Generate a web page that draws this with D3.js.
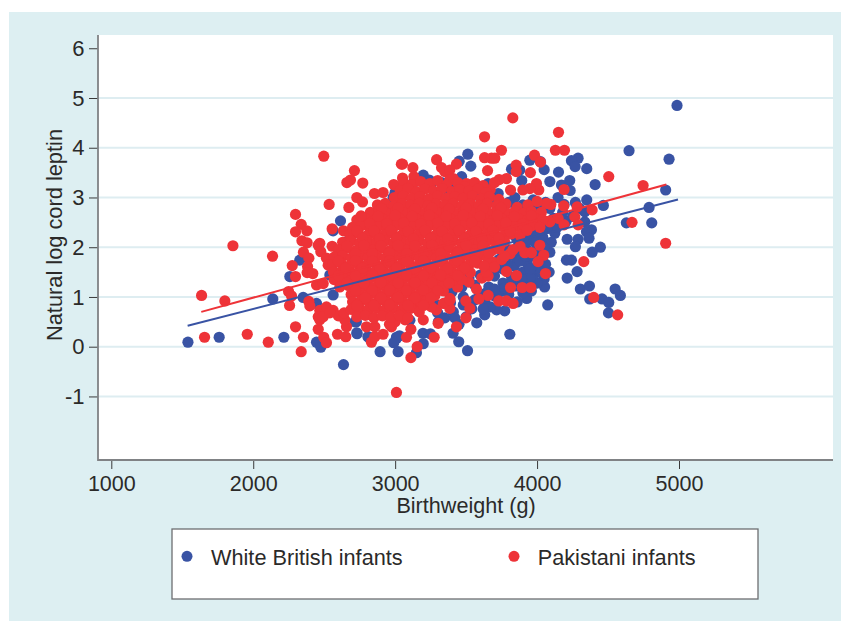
<!DOCTYPE html>
<html>
<head>
<meta charset="utf-8">
<script src="https://cdn.jsdelivr.net/npm/d3@7"></script>
<style>
  html, body { margin: 0; padding: 0; background: #fff; }
  text { font-family: "Liberation Sans", Arial, sans-serif; fill: #2b2a29; }
</style>
</head>
<body>
<div id="chart"></div>
<script>
const xTicks = [1000, 2000, 3000, 4000, 5000];
const yTicks = [-1, 0, 1, 2, 3, 4, 5, 6];
const gridValues = [-1, 0, 1, 2, 3, 4, 5];

// [birthweight (g), natural log cord leptin]
const whiteBritish = [
  [1540,.09],[1760,.19],[2216,.19],[2138,.96],[2352,.99],[2446,.87],[2446,.09],[2476,-.01],[2636,-.36],[2732,.26],
  [2812,.2],[2894,-.1],[3021,-.1],[3009,.19],[2615,2.53],[2563,2.33],[2328,1.74],[2258,1.41],[2939,2.83],[2986,3.0],
  [2727,.5],[2645,2.1],[2540,1.44],[2563,1.04],[2808,.2],[2730,.28],[2716,.5],[3010,.17],[3196,.27],[3104,.53],[3060,.65],
  [4986,4.85],[4648,3.94],[4930,3.77],[4906,3.15],[4789,2.8],[4467,2.84],[4629,2.49],[4808,2.49],[4409,3.26],[4350,3.58],
  [4289,3.79],[4242,3.74],[4268,3.62],[4151,3.51],[4050,3.56],[4024,3.72],[3949,3.75],[3820,3.57],[3878,3.55],[3892,3.34],
  [3512,3.87],[3533,3.63],[3451,3.73],[3468,3.42],[3198,3.45],[3327,3.3],[3240,3.35],[3655,3.28],[3585,3.2],[3421,3.18],
  [4090,3.32],[4172,3.25],[4230,3.34],[4233,3.14],[4148,3.0],[4350,2.95],[4090,2.78],[3972,2.95],[3843,3.0],[3726,3.08],
  [4336,2.71],[4336,2.51],[4383,2.35],[4348,2.31],[4366,2.18],[4289,2.16],[4212,2.16],[4270,2.01],[4446,2.0],[4388,1.9],
  [4242,1.74],[4207,1.74],[4282,1.51],[4212,1.38],[4305,1.16],[4369,1.22],[4371,.96],[4458,.96],[4505,.89],[4550,1.16],
  [4587,1.03],[4503,.68],[3927,.97],[4075,.84],[4053,1.2],[4050,1.36],[4085,1.5],[4060,1.66],[4090,1.9],[4100,2.1],
  [4125,2.28],[4140,2.4],[4205,2.52],[4250,2.62],[4180,2.7],[4115,2.58],[3772,.72],[3715,.74],[3631,.64],[3575,.48],
  [3808,.25],[3448,.1],[3510,-.08],[3408,.27],[3248,.26],[3198,.06],[3150,-.12],[3030,.22],[2990,.08],[3305,.5],[3450,.45],
  [3500,.6],[3300,.68],[3410,.7],[3540,.76],[3630,.9],[3700,1.02],[3737,1.1],[3800,1.05],[3860,.9],[3670,.8],[3590,1.0],
  [3480,1.0],[3390,.88],[3280,.86],[3760,1.28],[3660,1.2],[3560,1.24],[3470,1.2],[3400,1.1],[3850,1.22],[3960,1.12],
  [3900,1.08],[4000,1.28],[3930,1.3],[3820,1.4],[3700,1.42],[3600,1.44],[3520,1.38],[3980,1.45],[3900,1.5],[3760,1.56],
  [3640,1.6],[4000,1.62],[3930,1.68],[3840,1.62],[3730,1.75],[3850,1.8],[3960,1.82],[4030,1.78],[3930,1.94],[3800,1.95],
  [3870,2.06],[4000,2.02],[3950,2.16],[4040,2.2],[3850,2.2],[3760,2.1],[3980,2.3],[4070,2.38],[3700,2.9],[3650,3.05],
  [3800,2.9],[3900,2.85],[4000,2.78],[4060,2.9],[4190,2.86],[4270,2.9],[4300,2.78],[3560,3.05],[3460,3.1],[3370,3.15],
  [3250,3.22],[3130,3.3],[2830,2.66],[2880,2.78],[3000,3.1],[3040,2.95],
  // thick patch right of the cloud
  [3950,1.4],[3890,1.36],[3830,1.3],[3770,1.18],[3700,1.16],[3640,1.08],[3560,.94],[3480,.84],[3620,.76],[3420,.58],
  [3350,.58],[3880,1.72],[3790,1.68],[3700,1.55],[3950,1.56],[4030,1.5],[3920,1.82],[3990,1.9],[4050,2.0],[3900,2.28],
  [3920,2.08],[3980,2.12],[3850,1.94],[3760,1.86]
];
const pakistani = [
  // outlying points, left side
  [2497,3.83],[2713,3.54],[2685,3.35],[2660,3.3],[2772,3.29],[2854,3.08],[2915,3.1],[2730,3.0],[2770,2.91],[2535,2.86],
  [2674,2.8],[2990,3.26],[3044,3.67],[2298,2.66],[2338,2.46],[2298,2.31],[2378,2.33],[2556,2.37],[2636,2.33],[2343,2.13],
  [2380,2.09],[1857,2.03],[2469,2.08],[2458,2.04],[2556,2.02],[2136,1.82],[2354,1.9],[2476,1.91],[2392,1.78],[2516,1.78],
  [2275,1.63],[2383,1.61],[2528,1.64],[2298,1.41],[2380,1.49],[2420,1.47],[1636,1.03],[1800,.92],[2249,1.11],[2270,1.02],
  [2256,.83],[2392,.91],[2399,.82],[2446,1.24],[2493,1.27],[2575,1.37],[2469,.73],[2516,.8],[2563,.73],[2458,.35],
  [2298,.4],[2354,.19],[1657,.19],[1958,.25],[2106,.09],[2338,-.1],[2497,.19],[2516,.08],[2594,.25],[2652,.2],
  [2833,.09],[2857,.2],[2915,.25],[3009,-.92],[2469,.54],[2458,.6],[2493,.6],[2657,.4],[2645,.54],[2798,.4],[2857,.4],[2974,.4],
  [2600,.62],[2640,.68],[2540,.68],
  // outlying points, right side
  [3829,4.6],[4151,4.31],[3630,4.22],[4129,3.95],[4193,3.95],[3749,3.95],[3630,3.8],[3679,3.79],[3702,3.79],[3982,3.85],
  [4024,3.71],[3853,3.65],[3853,3.52],[3953,3.5],[3651,3.54],[3292,3.76],[3052,3.67],[3125,3.6],[3052,3.39],[3132,3.42],
  [3327,3.6],[3350,3.52],[3432,3.67],[3385,3.55],[3409,3.38],[3385,3.35],[4505,3.42],[4747,3.24],[4190,3.16],[4012,3.15],
  [3996,3.28],[3949,3.18],[3900,3.15],[3813,3.15],[3784,3.38],[3733,3.36],[3503,3.28],[3670,3.16],[4188,2.83],[4282,2.81],
  [4388,2.75],[4097,2.86],[4066,2.88],[4266,2.61],[4148,2.58],[4090,2.51],[4190,2.45],[4289,2.45],[4669,2.5],[4906,2.08],
  [4329,1.71],[3914,1.89],[3960,1.89],[4047,1.84],[4007,1.71],[4059,1.47],[3855,1.43],[3784,1.51],[3813,1.19],[3895,1.19],
  [3956,1.19],[3573,1.16],[3655,1.03],[3590,.96],[3730,.92],[3784,.92],[3831,.87],[4399,.99],[4568,.64],[3498,.92],
  [3526,.77],[3498,.58],[3432,.4],[3275,.19],[3155,0],[3111,-.22],[3080,.19],[3111,.35],[3303,.47],[3198,.54],[3070,.54],
  [3000,.5],[2960,.45],[3385,.97],[3385,.77],[3340,.87],[3290,.74],[3255,.8],[3340,1.12],[3198,.87],[3150,.8],[3689,1.7],
  [3611,1.38],[3655,1.42],[3387,.94],[3440,1.2],[3520,1.3],[3640,1.5],[3700,1.6],[3750,1.75],[3810,1.87],[4019,2.04],
  [3880,2.02],[3830,1.95],[3770,1.82],
  // top edge of the central cloud
  [3060,3.3],[3120,3.26],[3180,3.32],[3245,3.28],[3300,3.34],[3360,3.25],[3440,3.3],[3490,3.22],[3560,3.3],[3620,3.24],[3700,3.3],
  [3035,3.14],[3090,3.18],[3150,3.12],[3210,3.17],[3270,3.13],[3330,3.18],[3400,3.12],[3455,3.16],[3520,3.13],[3585,3.17],[3640,3.1],
  [2995,3.0],[3055,3.03],[3115,2.98],[3175,3.02],[3235,2.97],[3300,3.03],[3360,2.98],[3420,3.02],[3480,2.98],[3545,3.03],[3605,2.97],[3665,3.02],[3730,2.96],
  [2875,2.85],[2930,2.88],[2990,2.83],[3050,2.87],[3110,2.84],[3170,2.88],[3230,2.83],[3290,2.87],[3350,2.84],[3410,2.88],[3470,2.83],[3530,2.87],[3590,2.84],[3650,2.88],[3715,2.83],[3780,2.87],[3860,2.8],[3935,2.85],[4000,2.92],
  [2825,2.7],[2885,2.73],[2945,2.68],[3005,2.72],[3065,2.69],[3125,2.73],[3185,2.68],[3245,2.72],[3305,2.69],[3365,2.73],[3425,2.68],[3485,2.72],[3545,2.69],[3605,2.73],[3665,2.68],[3725,2.72],[3785,2.69],[3845,2.73],[3905,2.68],[3960,2.72],[4030,2.7],
  // middle of the cloud
  [2730,2.55],[2790,2.58],[2850,2.53],[2910,2.57],[2970,2.54],[3030,2.58],[3090,2.53],[3150,2.57],[3210,2.54],[3270,2.58],[3330,2.53],[3390,2.57],[3450,2.54],[3510,2.58],[3570,2.53],[3630,2.57],[3690,2.54],[3750,2.58],[3810,2.53],[3870,2.57],[3930,2.54],[3990,2.58],[4040,2.55],
  [2700,2.4],[2760,2.43],[2820,2.38],[2880,2.42],[2940,2.39],[3000,2.43],[3060,2.38],[3120,2.42],[3180,2.39],[3240,2.43],[3300,2.38],[3360,2.42],[3420,2.39],[3480,2.43],[3540,2.38],[3600,2.42],[3660,2.39],[3720,2.43],[3780,2.38],[3840,2.42],[3900,2.39],[3960,2.43],[4020,2.4],
  [2680,2.25],[2740,2.28],[2800,2.23],[2860,2.27],[2920,2.24],[2980,2.28],[3040,2.23],[3100,2.27],[3160,2.24],[3220,2.28],[3280,2.23],[3340,2.27],[3400,2.24],[3460,2.28],[3520,2.23],[3580,2.27],[3640,2.24],[3700,2.28],[3760,2.23],[3820,2.27],[3880,2.24],
  [2630,2.1],[2690,2.13],[2750,2.08],[2810,2.12],[2870,2.09],[2930,2.13],[2990,2.08],[3050,2.12],[3110,2.09],[3170,2.13],[3230,2.08],[3290,2.12],[3350,2.09],[3410,2.13],[3470,2.08],[3530,2.12],[3590,2.09],[3650,2.13],[3710,2.1],[3770,2.12],
  [2600,1.95],[2660,1.98],[2720,1.93],[2780,1.97],[2840,1.94],[2900,1.98],[2960,1.93],[3020,1.97],[3080,1.94],[3140,1.98],[3200,1.93],[3260,1.97],[3320,1.94],[3380,1.98],[3440,1.93],[3500,1.97],[3560,1.94],[3620,1.98],[3680,1.93],[3730,1.97],
  [2570,1.8],[2630,1.83],[2690,1.78],[2750,1.82],[2810,1.79],[2870,1.83],[2930,1.78],[2990,1.82],[3050,1.79],[3110,1.83],[3170,1.78],[3230,1.82],[3290,1.79],[3350,1.83],[3410,1.78],[3470,1.82],[3530,1.79],[3590,1.83],[3650,1.78],
  [2560,1.65],[2620,1.68],[2680,1.63],[2740,1.67],[2800,1.64],[2860,1.68],[2920,1.63],[2980,1.67],[3040,1.64],[3100,1.68],[3160,1.63],[3220,1.67],[3280,1.64],[3340,1.68],[3400,1.63],[3460,1.67],[3520,1.64],[3580,1.68],[3625,1.62],
  [2565,1.5],[2625,1.53],[2685,1.48],[2745,1.52],[2805,1.49],[2865,1.53],[2925,1.48],[2985,1.52],[3045,1.49],[3105,1.53],[3165,1.48],[3225,1.52],[3285,1.49],[3345,1.53],[3405,1.48],[3465,1.52],[3530,1.49],
  [2570,1.35],[2630,1.38],[2690,1.33],[2750,1.37],[2810,1.34],[2870,1.38],[2930,1.33],[2990,1.37],[3050,1.34],[3110,1.38],[3170,1.33],[3230,1.37],[3290,1.34],[3350,1.38],[3410,1.33],[3470,1.35],
  // lower part of the cloud
  [2610,1.2],[2670,1.23],[2730,1.18],[2790,1.22],[2850,1.19],[2910,1.23],[2970,1.18],[3030,1.22],[3090,1.19],[3150,1.23],[3210,1.18],[3270,1.22],[3330,1.2],
  [2690,1.05],[2750,1.08],[2810,1.03],[2870,1.07],[2930,1.04],[2990,1.08],[3050,1.03],[3110,1.07],[3170,1.04],[3230,1.08],[3280,1.03],
  [2700,.9],[2760,.93],[2820,.88],[2880,.92],[2940,.89],[3000,.93],[3060,.88],[3120,.92],[3180,.9],[3225,.94],
  [2690,.75],[2750,.78],[2810,.73],[2870,.77],[2930,.74],[2990,.78],[3050,.73],[3110,.77],[3170,.7],
  [2730,.6],[2790,.63],[2850,.58],[2910,.62],[2970,.59],[3030,.63],[3090,.58],
  // points filling the thick centre
  [2905,2.78],[3020,2.79],[3140,2.77],[3260,2.79],[3380,2.77],[3500,2.79],[3620,2.77],[3745,2.79],
  [2760,2.63],[2880,2.62],[3000,2.64],[3120,2.62],[3240,2.64],[3360,2.62],[3480,2.64],[3600,2.62],[3720,2.64],[3840,2.62],[3960,2.64],
  [2820,2.48],[2940,2.47],[3060,2.49],[3180,2.47],[3300,2.49],[3420,2.47],[3540,2.49],[3660,2.47],[3780,2.49],[3900,2.47],
  [2730,2.33],[2850,2.33],[2970,2.34],[3090,2.32],[3210,2.34],[3330,2.32],[3450,2.34],[3570,2.32],[3690,2.34],[3810,2.32],[3930,2.34],
  [2770,2.18],[2890,2.17],[3010,2.18],[3130,2.17],[3250,2.18],[3370,2.17],[3490,2.18],[3610,2.17],[3730,2.18],
  [2660,2.03],[2780,2.04],[2900,2.03],[3020,2.04],[3140,2.03],[3260,2.04],[3380,2.03],[3500,2.04],[3620,2.03],[3740,2.04],
  [2720,1.87],[2840,1.87],[2960,1.88],[3080,1.87],[3200,1.88],[3320,1.87],[3440,1.88],[3560,1.87],[3660,1.88],
  [2600,1.72],[2720,1.73],[2840,1.72],[2960,1.73],[3080,1.72],[3200,1.73],[3320,1.72],[3440,1.73],[3560,1.72],
  [2650,1.58],[2770,1.58],[2890,1.57],[3010,1.58],[3130,1.57],[3250,1.58],[3370,1.57],[3490,1.58],
  [2600,1.43],[2720,1.43],[2840,1.44],[2960,1.43],[3080,1.44],[3200,1.43],[3320,1.44],[3440,1.43],
  [2660,1.28],[2780,1.28],[2900,1.29],[3020,1.28],[3140,1.29],[3260,1.28],[3380,1.28],
  [2720,1.13],[2840,1.13],[2960,1.14],[3080,1.13],[3200,1.14],[3300,1.13],
  [2790,.98],[2900,.98],[3020,.99],[3140,.98],[3250,.98],
  [2730,.83],[2850,.83],[2960,.84],[3090,.83],[3200,.83]
];

// fitted lines, read from their end points
const whiteFit = [[1538, .42], [4993, 2.96]];
const pakistaniFit = [[1634, .7], [4911, 3.26]];

const legendLabels = ["White British infants", "Pakistani infants"];
const blue = "#3953a4", red = "#ee3338";

const width = 841, height = 621;
const plot = {left: 98, right: 833, top: 35, bottom: 460};

const svg = d3.select("#chart").append("svg")
    .attr("width", width)
    .attr("height", height)
    .style("display", "block");

// panel and plot background
svg.append("rect").attr("x", 9).attr("y", 12)
    .attr("width", width - 9).attr("height", height - 12).attr("fill", "#ddeff2");
svg.append("rect").attr("x", plot.left).attr("y", plot.top)
    .attr("width", plot.right - plot.left).attr("height", plot.bottom - plot.top).attr("fill", "#fff");

const x = d3.scaleLinear().domain([1000, 5000]).range([111.3, 679]);
const y = d3.scaleLinear().domain([0, 5]).range([346.7, 98]);

// grid
svg.append("g").selectAll("line").data(gridValues).join("line")
    .attr("x1", plot.left).attr("x2", plot.right)
    .attr("y1", d => y(d)).attr("y2", d => y(d))
    .attr("stroke", "#deedf1").attr("stroke-width", 2);

// points
svg.append("g").selectAll("circle").data(whiteBritish).join("circle")
    .attr("cx", d => x(d[0])).attr("cy", d => y(d[1])).attr("r", 5.6).attr("fill", blue);
svg.append("g").selectAll("circle").data(pakistani).join("circle")
    .attr("cx", d => x(d[0])).attr("cy", d => y(d[1])).attr("r", 5.6).attr("fill", red);

// fit lines
const line = d3.line().x(d => x(d[0])).y(d => y(d[1]));
svg.append("path").attr("d", line(whiteFit)).attr("fill", "none").attr("stroke", blue).attr("stroke-width", 2);
svg.append("path").attr("d", line(pakistaniFit)).attr("fill", "none").attr("stroke", red).attr("stroke-width", 2);

// axes
const xAxis = svg.append("g")
    .attr("transform", `translate(0,${plot.bottom})`)
    .call(d3.axisBottom(x).tickValues(xTicks).tickFormat(d => String(d)).tickSize(9).tickSizeOuter(0));
xAxis.select(".domain").remove();
xAxis.selectAll("text").attr("y", 16).attr("dy", "0.71em").style("font-size", "21.5px");
xAxis.selectAll("line").attr("stroke", "#3a3a3a");

const yAxis = svg.append("g")
    .attr("transform", `translate(${plot.left},0)`)
    .call(d3.axisLeft(y).tickValues(yTicks).tickFormat(d => String(d)).tickSize(9).tickSizeOuter(0));
yAxis.select(".domain").remove();
yAxis.selectAll("text").attr("x", -13.5).style("font-size", "22px");
yAxis.selectAll("line").attr("stroke", "#3a3a3a");

svg.append("path")
    .attr("d", `M${plot.left},${plot.top}V${plot.bottom}H${plot.right}`)
    .attr("fill", "none").attr("stroke", "#808285").attr("stroke-width", 1.8);

// axis titles
svg.append("text").attr("x", 466).attr("y", 513)
    .attr("text-anchor", "middle").style("font-size", "21.6px").text("Birthweight (g)");
svg.append("text").attr("transform", "translate(62,235) rotate(-90)")
    .attr("text-anchor", "middle").style("font-size", "21.8px").text("Natural log cord leptin");

// legend
svg.append("rect").attr("x", 172).attr("y", 529).attr("width", 586).attr("height", 70)
    .attr("fill", "#fff").attr("stroke", "#6d6e71").attr("stroke-width", 1.3);
const legendColors = [blue, red];
const legendDotX = [187, 514];
const legendTextX = [211, 537.7];
legendLabels.forEach((label, i) => {
  svg.append("circle").attr("cx", legendDotX[i]).attr("cy", 556.3).attr("r", 5.5).attr("fill", legendColors[i]);
  svg.append("text").attr("x", legendTextX[i]).attr("y", 565).style("font-size", "21.7px").text(label);
});
</script>
</body>
</html>
